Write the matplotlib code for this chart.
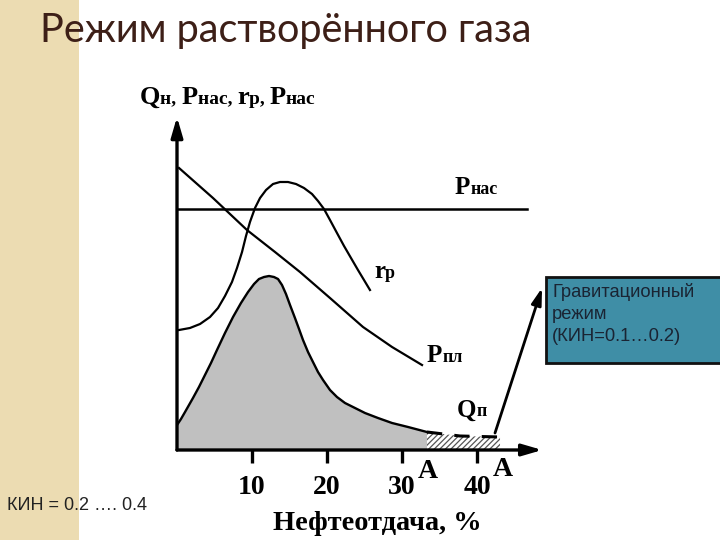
import matplotlib
matplotlib.use('Agg')
import matplotlib.pyplot as plt
from matplotlib.patches import Rectangle
from matplotlib.offsetbox import TextArea, HPacker, AnnotationBbox

# --- data (x: oil recovery, %; y: relative units 0..100) ---
p_sat_x = [0, 46.7]
p_sat_y = [71.9, 71.9]

p_res_x = [0.27, 4.8, 9.33, 13.07, 16.4, 20.4, 24.8, 28.67, 32.67]
p_res_y = [84.18, 75.22, 65.67, 59.10, 53.13, 45.37, 36.72, 30.75, 25.37]

gor_x = [0.27, 1.73, 3.07, 4.4, 5.47, 6.4, 7.33, 8.0, 8.67, 9.2, 9.73, 10.4, 11.07, 11.87,
         12.8, 13.73, 14.8, 15.87, 16.93, 18.0, 18.8, 19.6, 20.4, 21.33, 22.27, 23.2,
         24.13, 24.93, 25.73]
gor_y = [35.82, 36.42, 37.61, 39.70, 42.39, 45.97, 50.15, 54.33, 59.10, 63.88, 68.06,
         72.24, 75.22, 77.61, 79.40, 80.0, 80.0, 79.40, 78.21, 76.42, 74.33, 71.94,
         68.66, 64.78, 60.90, 57.31, 53.73, 50.75, 47.76]

q_x = [0, 0.53, 1.07, 1.6, 2.13, 2.93, 3.73, 4.53, 5.33, 6.4, 7.47, 8.53, 9.47, 10.27,
       10.93, 11.6, 12.27, 12.93, 13.47, 14.0, 14.53, 15.07, 15.73, 16.27, 16.8, 17.47,
       18.13, 18.8, 19.47, 20.4, 21.33, 22.4, 23.73, 25.07, 26.8, 28.67, 30.8, 33.33]
q_y = [7.46, 9.25, 11.34, 13.43, 15.52, 18.81, 22.39, 25.97, 29.85, 34.93, 39.70, 43.88,
       47.16, 49.55, 51.04, 51.64, 51.94, 51.64, 51.04, 49.25, 46.57, 43.28, 39.40,
       36.12, 32.84, 29.25, 26.27, 23.28, 20.90, 17.91, 15.82, 14.03, 12.54, 11.04,
       9.55, 8.06, 6.87, 5.37]

# gravity drainage tail (dashed)
grav_x = [33.33, 37.73, 43.07]
grav_y = [5.37, 4.18, 3.88]

ticks = [10, 20, 30, 40]
tick_labels = ['10', '20', '30', '40']

title = 'Режим растворённого газа'
xlabel = 'Нефтеотдача, %'
box_text = 'Гравитационный\nрежим\n(КИН=0.1…0.2)'
kin_text = 'КИН = 0.2 …. 0.4'

W, H = 720, 540
serif = 'Liberation Serif'

fig = plt.figure(figsize=(7.2, 5.4), dpi=100)
fig.patches.append(Rectangle((0, 0), 79 / W, 1, transform=fig.transFigure,
                             facecolor='#ecdcb2', edgecolor='none', zorder=0))

fig.text(40 / W, 1 - 42 / H, title, fontsize=28.5, color='#3d1f17',
         family=['Lato', 'Noto Sans', 'DejaVu Sans'], va='baseline', ha='left')

ax = fig.add_axes([177 / W, 90 / H, 368 / W, 335 / H])
ax.set_xlim(0, 368 / 7.5)
ax.set_ylim(0, 100)
for s in ax.spines.values():
    s.set_visible(False)
ax.patch.set_alpha(0)

# filled oil-rate hump and its tail
ax.fill_between(q_x, q_y, 0, color='#c0c0c0', lw=0, zorder=1)
plt.rcParams['hatch.linewidth'] = 0.9
ax.fill_between(grav_x, grav_y, 0, facecolor='white', edgecolor='#555555',
                hatch='//////', lw=0, zorder=1)
ax.plot(q_x, q_y, color='k', lw=1.7, zorder=3, solid_joinstyle='round')
ax.plot(grav_x, grav_y, color='k', lw=2.2, dashes=(5, 4), zorder=3)

ax.plot(p_sat_x, p_sat_y, color='k', lw=1.8, zorder=3)
ax.plot(p_res_x, p_res_y, color='k', lw=1.6, zorder=3, solid_joinstyle='round')
ax.plot(gor_x, gor_y, color='k', lw=1.6, zorder=3, solid_joinstyle='round')

# axes with arrows
arr = dict(arrowstyle='-|>,head_length=1.2,head_width=0.35', lw=2.4, color='k',
           shrinkA=0, shrinkB=0)
ax.annotate('', xy=(48.7, 0), xytext=(0, 0), arrowprops=arr, annotation_clip=False, zorder=4)
ax.annotate('', xy=(0, 99.4), xytext=(0, 0), arrowprops=arr, annotation_clip=False, zorder=4)

ax.set_xticks(ticks)
ax.set_xticklabels(tick_labels, family=serif, weight='bold', fontsize=20)
ax.tick_params(axis='x', length=9, width=2.4, direction='out', pad=9)
ax.set_yticks([])

# arrow to the gravity-drainage box
ax.annotate('', xy=(48.67, 48.4), xytext=(42.4, 5.07), annotation_clip=False,
            arrowprops=dict(arrowstyle='-|>,head_length=1.0,head_width=0.3', lw=2.0,
                            color='k', shrinkA=0, shrinkB=0))


def sub_label(x, y, parts, big, small):
    kids = []
    for i, t in enumerate(parts):
        kids.append(TextArea(t, textprops=dict(family=serif, weight='bold',
                                               fontsize=big if i % 2 == 0 else small)))
    box = HPacker(children=kids, align='baseline', pad=0, sep=0)
    ab = AnnotationBbox(box, (x, H - y), xycoords='figure pixels', frameon=False,
                        box_alignment=(0, 0.5), pad=0)
    fig.add_artist(ab)


sub_label(140, 97, ['Q', 'н, ', 'P', 'нас, ', 'r', 'р, ', 'P', 'нас'], 19, 14)
sub_label(455, 187, ['P', 'нас'], 18, 13)
sub_label(374, 272, ['r', 'р'], 18, 13)
sub_label(427, 356, ['P', 'пл'], 18, 13)
sub_label(457, 410, ['Q', 'п'], 18, 13)

fig.text(428 / W, 1 - 472 / H, 'A', family=serif, weight='bold', fontsize=20,
         ha='center', va='center')
fig.text(503 / W, 1 - 470 / H, 'A', family=serif, weight='bold', fontsize=20,
         ha='center', va='center')

fig.text(377 / W, 1 - 524 / H, xlabel, family=serif, weight='bold', fontsize=20.4,
         ha='center', va='center')

# gravity regime box
fig.patches.append(Rectangle((546 / W, 1 - 363 / H), 176 / W, 86 / H,
                             transform=fig.transFigure, facecolor='#3f8ea6',
                             edgecolor='#111111', lw=2, zorder=2))
fig.text(552 / W, 1 - 283 / H, box_text, family='Liberation Sans', fontsize=13.2,
         color='#1a2433', ha='left', va='top', linespacing=1.4, zorder=3)

fig.text(7 / W, 1 - 505 / H, kin_text, family='Liberation Sans', fontsize=13,
         color='#222222', ha='left', va='center')

fig.savefig('out.png', dpi=100)
